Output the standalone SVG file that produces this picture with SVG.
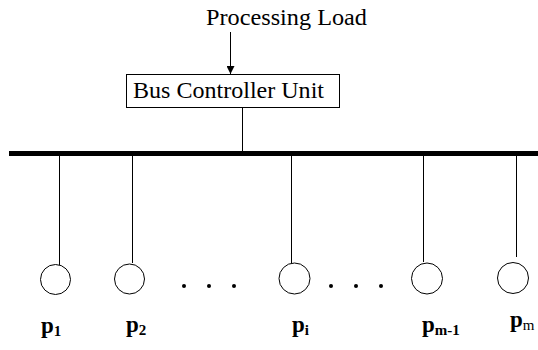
<svg xmlns="http://www.w3.org/2000/svg" width="538" height="350" viewBox="0 0 538 350">
  <style>
    .lbl { font-family: "Liberation Serif", "Times New Roman", serif; fill: #000; }
    .p { font-family: "Liberation Serif", "Times New Roman", serif; font-weight: bold; font-size: 23px; fill: #000; }
    .sub { font-size: 15px; }
    .wire { stroke: #000; stroke-width: 1; fill: none; }
    .proc { stroke: #000; stroke-width: 1; fill: #fff; }
    .dot { fill: #000; }
  </style>
  <defs>
    <marker id="arrow" viewBox="0 0 10 10" refX="10" refY="5" markerWidth="8" markerHeight="8" markerUnits="userSpaceOnUse" orient="auto">
      <path d="M0,0 L10,5 L0,10 z" fill="#000"/>
    </marker>
  </defs>

  <rect width="538" height="350" fill="#fff"/>

  <!-- incoming load label -->
  <g id="load">
    <text class="lbl" x="206" y="25" font-size="23" textLength="161" lengthAdjust="spacingAndGlyphs">Processing Load</text>
  </g>

  <!-- controller box -->
  <g id="controller">
    <rect x="126.5" y="74.5" width="213" height="33" fill="#fff" stroke="#000" stroke-width="1"/>
    <text class="lbl" x="133" y="98" font-size="23" textLength="191" lengthAdjust="spacingAndGlyphs">Bus Controller Unit</text>
  </g>

  <!-- shared bus -->
  <g id="bus">
    <rect x="9" y="151" width="529" height="5" fill="#000"/>
  </g>

  <!-- connectors -->
  <g id="connectors">
    <line class="wire" x1="230.5" y1="32" x2="230.5" y2="74" marker-end="url(#arrow)"/>
    <line class="wire" x1="242.5" y1="108" x2="242.5" y2="151"/>
    <line class="wire" x1="59.5" y1="156" x2="59.5" y2="268"/>
    <line class="wire" x1="132.5" y1="156" x2="132.5" y2="263"/>
    <line class="wire" x1="291.5" y1="156" x2="291.5" y2="263"/>
    <line class="wire" x1="423.5" y1="156" x2="423.5" y2="262"/>
    <line class="wire" x1="516.5" y1="156" x2="516.5" y2="257"/>
  </g>

  <!-- processors -->
  <g id="p1">
    <circle class="proc" cx="55.5" cy="279.5" r="15" fill="none"/>
    <text class="p" x="41" y="333">p<tspan class="sub" dy="3">1</tspan></text>
  </g>
  <g id="p2">
    <circle class="proc" cx="129.5" cy="279" r="15"/>
    <text class="p" x="126" y="332">p<tspan class="sub" dy="3">2</tspan></text>
  </g>
  <g id="dots-left">
    <circle class="dot" cx="184" cy="286" r="2"/>
    <circle class="dot" cx="209" cy="286" r="2"/>
    <circle class="dot" cx="234" cy="286" r="2"/>
  </g>
  <g id="pi">
    <circle class="proc" cx="294.5" cy="278.5" r="15.5"/>
    <text class="p" x="292" y="332">p<tspan class="sub" dy="3">i</tspan></text>
  </g>
  <g id="dots-right">
    <circle class="dot" cx="331" cy="286" r="2"/>
    <circle class="dot" cx="356" cy="286" r="2"/>
    <circle class="dot" cx="381" cy="286" r="2"/>
  </g>
  <g id="pm1">
    <circle class="proc" cx="427" cy="278.5" r="15.5"/>
    <text class="p" x="422" y="332">p<tspan class="sub" dy="3">m-1</tspan></text>
  </g>
  <g id="pm">
    <circle class="proc" cx="513" cy="278" r="15.5"/>
    <text class="p" x="510" y="327">p<tspan class="sub" dy="3" font-weight="normal">m</tspan></text>
  </g>
</svg>
